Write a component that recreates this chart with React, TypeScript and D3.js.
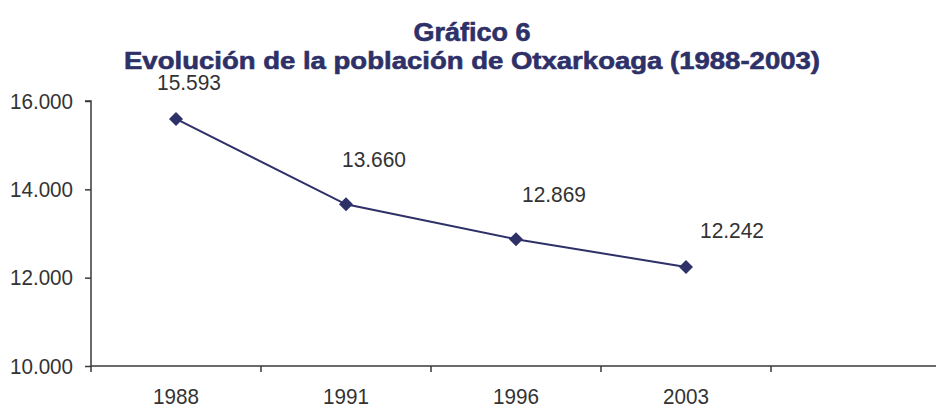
import React, { useRef, useEffect } from "react";
import * as d3 from "d3";

const years = ["1988", "1991", "1996", "2003"];
const population = [15593, 13660, 12869, 12242];
const yTicks = [10000, 12000, 14000, 16000];
// label nudges (px) relative to each marker, as placed in the original
const labelDx = [13, 28, 38, 46];
const labelDy = [-29, -37, -37, -29];

const title = "Gráfico 6";
const subtitle = "Evolución de la población de Otxarkoaga (1988-2003)";

const App = () => {
  const svgRef = useRef(null);
  const width = 936;
  const height = 405;
  const left = 91;
  const bottom = 366;
  const top = 101;

  useEffect(() => {
    const svg = d3.select(svgRef.current);
    svg.selectAll("*").remove();

    const navy = "#2e3068";
    const axisColor = "#3a3a3a";
    const textColor = "#333";
    const font = "'Liberation Sans', Arial, sans-serif";

    // one empty slot at the end, the axis runs on past the last year
    const xScale = d3.scaleBand().domain([...years, ""]).range([left, 941]);
    const yScale = d3.scaleLinear().domain([10000, 16000]).range([bottom, top]);
    const fmt = (v) => d3.format(",")(v).replace(/,/g, ".");

    // titles (the original face is heavier and narrower than Arial bold)
    svg.append("text")
       .attr("x", 472).attr("y", 41)
       .attr("text-anchor", "middle")
       .attr("font-family", font).attr("font-weight", "bold")
       .attr("font-size", "25px").attr("fill", navy)
       .attr("stroke", navy).attr("stroke-width", 0.6)
       .attr("textLength", 117).attr("lengthAdjust", "spacingAndGlyphs")
       .text(title);
    svg.append("text")
       .attr("x", 472).attr("y", 69)
       .attr("text-anchor", "middle")
       .attr("font-family", font).attr("font-weight", "bold")
       .attr("font-size", "24px").attr("fill", navy)
       .attr("stroke", navy).attr("stroke-width", 0.6)
       .attr("textLength", 696).attr("lengthAdjust", "spacingAndGlyphs")
       .text(subtitle);

    // y axis
    const yAxis = svg.append("g").attr("transform", `translate(${left},0)`)
       .call(d3.axisLeft(yScale).tickValues(yTicks).tickSize(6).tickPadding(12).tickFormat(fmt));
    yAxis.select(".domain").attr("stroke", axisColor).attr("stroke-width", 1.5).attr("d", `M-6,${top}H0V${bottom}`);
    yAxis.selectAll(".tick line").attr("stroke", axisColor).attr("stroke-width", 1.5);
    yAxis.selectAll(".tick text")
         .attr("font-family", font).attr("font-size", "22px").attr("fill", textColor)
         .attr("textLength", 63).attr("lengthAdjust", "spacingAndGlyphs");

    // x axis
    const xAxis = svg.append("g").attr("transform", `translate(0,${bottom})`);
    xAxis.append("line")
         .attr("x1", left).attr("x2", width).attr("y1", 0).attr("y2", 0)
         .attr("stroke", axisColor).attr("stroke-width", 1.5);
    xAxis.selectAll(".xtick")
         .data(xScale.domain())
         .enter().append("line")
         .attr("x1", d => xScale(d)).attr("x2", d => xScale(d))
         .attr("y1", 0).attr("y2", 6)
         .attr("stroke", axisColor).attr("stroke-width", 1.5);
    xAxis.selectAll(".xlab")
         .data(years)
         .enter().append("text")
         .attr("x", d => xScale(d) + xScale.bandwidth() / 2)
         .attr("y", 38)
         .attr("text-anchor", "middle")
         .attr("font-family", font).attr("font-size", "22px").attr("fill", textColor)
         .attr("textLength", 46).attr("lengthAdjust", "spacingAndGlyphs")
         .text(d => d);

    // line + markers
    const pts = years.map((y, i) => [xScale(y) + xScale.bandwidth() / 2, yScale(population[i])]);
    svg.append("path")
       .attr("d", d3.line()(pts))
       .attr("fill", "none").attr("stroke", navy).attr("stroke-width", 2);
    svg.selectAll(".marker")
       .data(pts)
       .enter().append("path")
       .attr("transform", d => `translate(${d[0]},${d[1]})`)
       .attr("d", "M0,-7L7,0L0,7L-7,0Z")
       .attr("fill", navy);

    // value labels
    svg.selectAll(".vlab")
       .data(pts)
       .enter().append("text")
       .attr("x", (d, i) => d[0] + labelDx[i])
       .attr("y", (d, i) => d[1] + labelDy[i])
       .attr("text-anchor", "middle")
       .attr("font-family", font).attr("font-size", "22px").attr("fill", textColor)
       .attr("textLength", 64).attr("lengthAdjust", "spacingAndGlyphs")
       .text((d, i) => fmt(population[i]));
  }, []);

  return (
    <div>
      <svg ref={svgRef} width={width} height={height}
           style={{ position: "absolute", left: 0, top: 0, background: "#fff" }} />
    </div>
  );
};

export default App;
